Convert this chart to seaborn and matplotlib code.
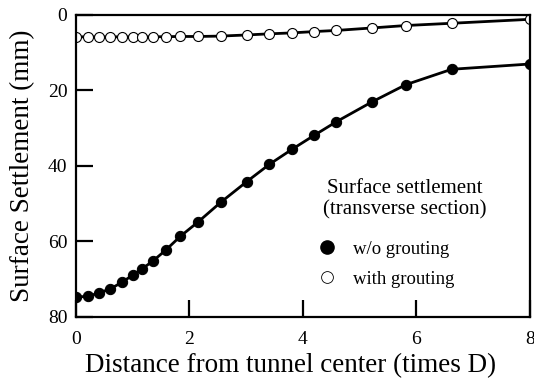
import matplotlib
matplotlib.use("Agg")
import matplotlib.pyplot as plt
from matplotlib.lines import Line2D
import seaborn as sns
import pandas as pd

distance = [0, 0.21, 0.41, 0.61, 0.81, 1.01, 1.17, 1.36, 1.58, 1.84, 2.16,
            2.55, 3.01, 3.41, 3.81, 4.20, 4.59, 5.21, 5.81, 6.62, 8.0]
wo_grouting = [74.8, 74.6, 73.7, 72.6, 70.9, 68.9, 67.3, 65.2, 62.4, 58.7, 54.8,
               49.7, 44.2, 39.6, 35.6, 31.9, 28.3, 23.1, 18.5, 14.4, 13.0]
with_grouting = [5.8, 5.8, 5.8, 5.8, 5.8, 5.8, 5.8, 5.8, 5.75, 5.7, 5.7,
                 5.6, 5.3, 5.0, 4.75, 4.4, 4.1, 3.45, 2.8, 2.2, 1.15]
x_ticks = [0, 2, 4, 6, 8]
y_ticks = [0, 20, 40, 60, 80]

sns.set_theme(style="white")
plt.rcParams['font.family'] = ['Liberation Serif', 'DejaVu Serif']
plt.rcParams['text.color'] = 'black'
plt.rcParams['axes.labelcolor'] = 'black'
plt.rcParams['xtick.color'] = 'black'
plt.rcParams['ytick.color'] = 'black'

fig = plt.figure(figsize=(5.34, 3.80), dpi=100)
ax = fig.add_axes([0.142, 0.1666, 0.8505, 0.794])

df_wo = pd.DataFrame({"x": distance, "y": wo_grouting})
df_w = pd.DataFrame({"x": distance, "y": with_grouting})

sns.lineplot(data=df_w, x="x", y="y", ax=ax, color="black", linewidth=2.0,
             marker="o", markersize=7.2, markerfacecolor="white",
             markeredgecolor="black", markeredgewidth=0.8, sort=False)
sns.lineplot(data=df_wo, x="x", y="y", ax=ax, color="black", linewidth=2.0,
             marker="o", markersize=7.4, markerfacecolor="black",
             markeredgecolor="black", sort=False)

ax.set_xlim(0, 8)
ax.set_ylim(80, 0)
ax.set_xticks(x_ticks)
ax.set_yticks(y_ticks)
ax.set_xticklabels([str(v) for v in x_ticks])
ax.set_yticklabels([str(v) for v in y_ticks])
ax.tick_params(axis="both", direction="in", length=12, width=1.6,
               labelsize=14, colors="black",
               bottom=True, left=True, top=False, right=False)
ax.tick_params(axis="x", pad=10)
ax.tick_params(axis="y", pad=6)
for s in ax.spines.values():
    s.set_visible(True)
    s.set_color("black")
    s.set_linewidth(1.6)

ax.set_xlabel("Distance from tunnel center (times D)", fontsize=19.5,
              color="black", labelpad=4, x=0.472)
ax.set_ylabel("Surface Settlement (mm)", fontsize=19.5, color="black",
              labelpad=9)

# legend title as a separate centered text block
ax.text(0.7247, 0.457, "Surface settlement\n(transverse section)",
        transform=ax.transAxes, ha="center", va="top",
        multialignment="center", fontsize=15, color="black")

handles = [
    Line2D([], [], linestyle="none", marker="o", markersize=9.5,
           markerfacecolor="black", markeredgecolor="black"),
    Line2D([], [], linestyle="none", marker="o", markersize=8.5,
           markerfacecolor="white", markeredgecolor="black",
           markeredgewidth=0.6),
]
leg = ax.legend(handles, ["w/o grouting", "with grouting"],
                loc="upper left", bbox_to_anchor=(0.542, 0.252),
                frameon=False, fontsize=13.5,
                handlelength=0.55, handletextpad=1.1, labelspacing=0.7,
                borderpad=0.0, borderaxespad=0.0)

fig.savefig("out.png", dpi=100)
